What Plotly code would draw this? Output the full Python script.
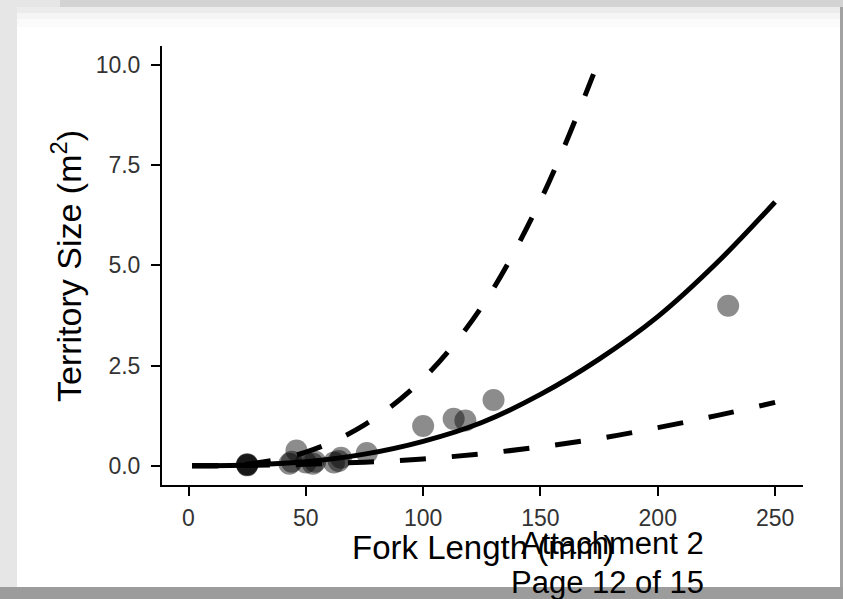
import plotly.graph_objects as go

# ---- data ----
fork_length = [25, 25, 25, 25, 43, 44, 46, 50, 53, 54, 62, 64, 65, 76, 100, 113, 118, 130, 230]
territory = [0.02, 0.03, 0.01, 0.04, 0.05, 0.10, 0.38, 0.08, 0.05, 0.10, 0.08, 0.12, 0.20, 0.32,
             0.99, 1.17, 1.13, 1.64, 3.99]

fit_x = [1.5, 25, 50, 75, 100, 125, 150, 175, 200, 225, 250]
fit_y = [0.0, 0.02, 0.10, 0.29, 0.61, 1.08, 1.78, 2.66, 3.72, 5.05, 6.58]

upper_x = [1.5, 25, 50, 75, 100, 125, 150, 172.6]
upper_y = [0.0, 0.04, 0.34, 1.02, 2.17, 3.97, 6.62, 9.77]

lower_x = [1.5, 25, 50, 75, 100, 125, 150, 175, 200, 225, 250]
lower_y = [0.0, 0.01, 0.04, 0.09, 0.17, 0.30, 0.47, 0.68, 0.95, 1.25, 1.58]

x_ticks = [0, 50, 100, 150, 200, 250]
y_ticks = [0.0, 2.5, 5.0, 7.5, 10.0]
y_tick_text = ["0.0", "2.5", "5.0", "7.5", "10.0"]

FONT = "Liberation Sans, Arial, sans-serif"
W, H = 843, 599
ML, MR, MT, MB = 162, 40, 46, 114
PW, PH = W - ML - MR, H - MT - MB


def px(xp):
    return (xp - ML) / PW


def py(yp):
    return (H - MB - yp) / PH


fig = go.Figure()

fig.add_trace(go.Scatter(
    x=fork_length, y=territory, mode="markers",
    marker=dict(size=22, color="rgba(0,0,0,0.45)", line=dict(width=0)),
    hoverinfo="skip", showlegend=False))

fig.add_trace(go.Scatter(
    x=fit_x, y=fit_y, mode="lines",
    line=dict(color="black", width=5, shape="spline"),
    hoverinfo="skip", showlegend=False))

fig.add_trace(go.Scatter(
    x=upper_x, y=upper_y, mode="lines",
    line=dict(color="black", width=5, shape="spline", dash="26px,27px"),
    hoverinfo="skip", showlegend=False))

fig.add_trace(go.Scatter(
    x=lower_x, y=lower_y, mode="lines",
    line=dict(color="black", width=5, shape="spline", dash="26px,26px"),
    hoverinfo="skip", showlegend=False))

shapes = [
    # white page card
    dict(type="rect", xref="paper", yref="paper", layer="below",
         x0=px(17), x1=px(840), y0=py(587), y1=py(7),
         fillcolor="white", line=dict(width=0)),
    # right dark edge
    dict(type="rect", xref="paper", yref="paper", layer="below",
         x0=px(840), x1=px(850), y0=py(610), y1=py(-10),
         fillcolor="#a2a2a2", line=dict(width=0)),
    # bottom dark edge
    dict(type="rect", xref="paper", yref="paper", layer="below",
         x0=px(-10), x1=px(850), y0=py(610), y1=py(587),
         fillcolor="#9c9c9c", line=dict(width=0)),
    # top strip
    dict(type="rect", xref="paper", yref="paper", layer="below",
         x0=px(60), x1=px(850), y0=py(7), y1=py(-10),
         fillcolor="#d3d3d3", line=dict(width=0)),
]
# soft shadow at top of the card
for h, a in [(6, 0.035), (12, 0.025), (20, 0.015)]:
    shapes.append(dict(type="rect", xref="paper", yref="paper", layer="below",
                       x0=px(17), x1=px(840), y0=py(7 + h), y1=py(7),
                       fillcolor=f"rgba(0,0,0,{a})", line=dict(width=0)))

annotations = [
    dict(text="Territory Size (m<sup>2</sup>)", xref="paper", yref="paper",
         x=px(66), y=py(266), xanchor="center", yanchor="middle", textangle=-90,
         showarrow=False, font=dict(family=FONT, size=34, color="black")),
    dict(text="Fork Length (mm)", xref="paper", yref="paper",
         x=0.5, y=py(547), xanchor="center", yanchor="middle",
         showarrow=False, font=dict(family=FONT, size=33, color="black")),
    dict(text="Attachment 2", xref="paper", yref="paper",
         x=px(706), y=py(543), xanchor="right", yanchor="middle",
         showarrow=False, font=dict(family=FONT, size=31, color="black")),
    dict(text="Page 12 of 15", xref="paper", yref="paper",
         x=px(706), y=py(582), xanchor="right", yanchor="middle",
         showarrow=False, font=dict(family=FONT, size=31, color="black")),
]

fig.update_layout(
    width=W, height=H,
    margin=dict(l=ML, r=MR, t=MT, b=MB, pad=0),
    paper_bgcolor="#e6e6e6",
    plot_bgcolor="rgba(0,0,0,0)",
    shapes=shapes,
    annotations=annotations,
    showlegend=False,
    font=dict(family=FONT),
    xaxis=dict(range=[-11.3, 261.9], tickvals=x_ticks, ticks="outside", ticklen=9,
               tickwidth=2, tickcolor="black", showline=True, linewidth=2,
               linecolor="black", showgrid=False, zeroline=False,
               ticklabelstandoff=2,
               tickfont=dict(family=FONT, size=23, color="#333333")),
    yaxis=dict(range=[-0.48, 10.47], tickvals=y_ticks, ticktext=y_tick_text,
               ticks="outside", ticklen=9, tickwidth=2, tickcolor="black",
               showline=True, linewidth=2, linecolor="black", showgrid=False,
               zeroline=False, ticklabelstandoff=6,
               tickfont=dict(family=FONT, size=23, color="#333333")),
)

fig.write_html("out.html", config={"displayModeBar": False},
               post_script="document.body.style.margin='0';document.body.style.overflow='hidden';")
